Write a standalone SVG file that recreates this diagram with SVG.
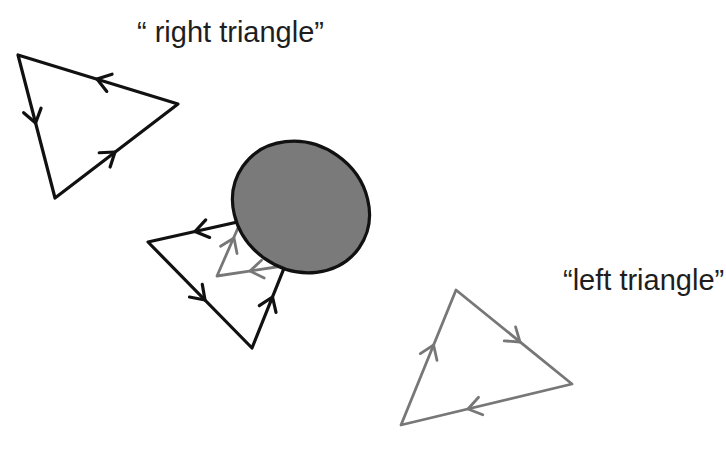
<svg xmlns="http://www.w3.org/2000/svg" width="726" height="463" viewBox="0 0 726 463">
<style>
.blk{fill:none;stroke:#111;stroke-width:3.2;stroke-linejoin:round;stroke-linecap:round}
.gry{fill:none;stroke:#777;stroke-width:2.8;stroke-linejoin:round;stroke-linecap:round}
.lbl{font-family:"Liberation Sans",Arial,sans-serif;font-size:29px;fill:#1e1e1e}
</style>
<defs>
<polyline id="chev" points="-13,-9 0,0 -13,9"/>
</defs>
<rect width="726" height="463" fill="#fff"/>
<g id="label-right"><text class="lbl" x="137" y="42">“ right triangle”</text></g>
<g id="label-left"><text class="lbl" x="563" y="290">“left triangle”</text></g>
<g id="right-triangle" class="blk">
<polygon points="178,104 18,55 55,198"/>
<use href="#chev" transform="translate(97,79) rotate(197)"/>
<use href="#chev" transform="translate(35.6,123) rotate(75.5)"/>
<use href="#chev" transform="translate(115,152) rotate(-37.4)"/>
</g>
<g id="inner-gray-triangle" class="gry">
<polygon points="217,276 248,205 283,266"/>
<use href="#chev" transform="translate(234,238) rotate(-66.4)"/>
<use href="#chev" transform="translate(250,271) rotate(171.4)"/>
</g>
<g id="middle-triangle" class="blk">
<polygon points="148,242 252,348 309,206"/>
<use href="#chev" transform="translate(195,231.5) rotate(167.4)"/>
<use href="#chev" transform="translate(205,300) rotate(45.5)"/>
<use href="#chev" transform="translate(272.5,297) rotate(-68.1)"/>
</g>
<g id="sphere">
<ellipse cx="301" cy="207" rx="71" ry="63" transform="rotate(35 301 207)" fill="#7a7a7a" stroke="#111" stroke-width="3.2"/>
</g>
<g id="left-triangle" class="gry">
<polygon points="456,290 572,384 401,425"/>
<use href="#chev" transform="translate(520,342) rotate(39)"/>
<use href="#chev" transform="translate(468,409) rotate(166.5)"/>
<use href="#chev" transform="translate(433.6,345) rotate(-67.8)"/>
</g>
<g id="connectors"/>
</svg>
